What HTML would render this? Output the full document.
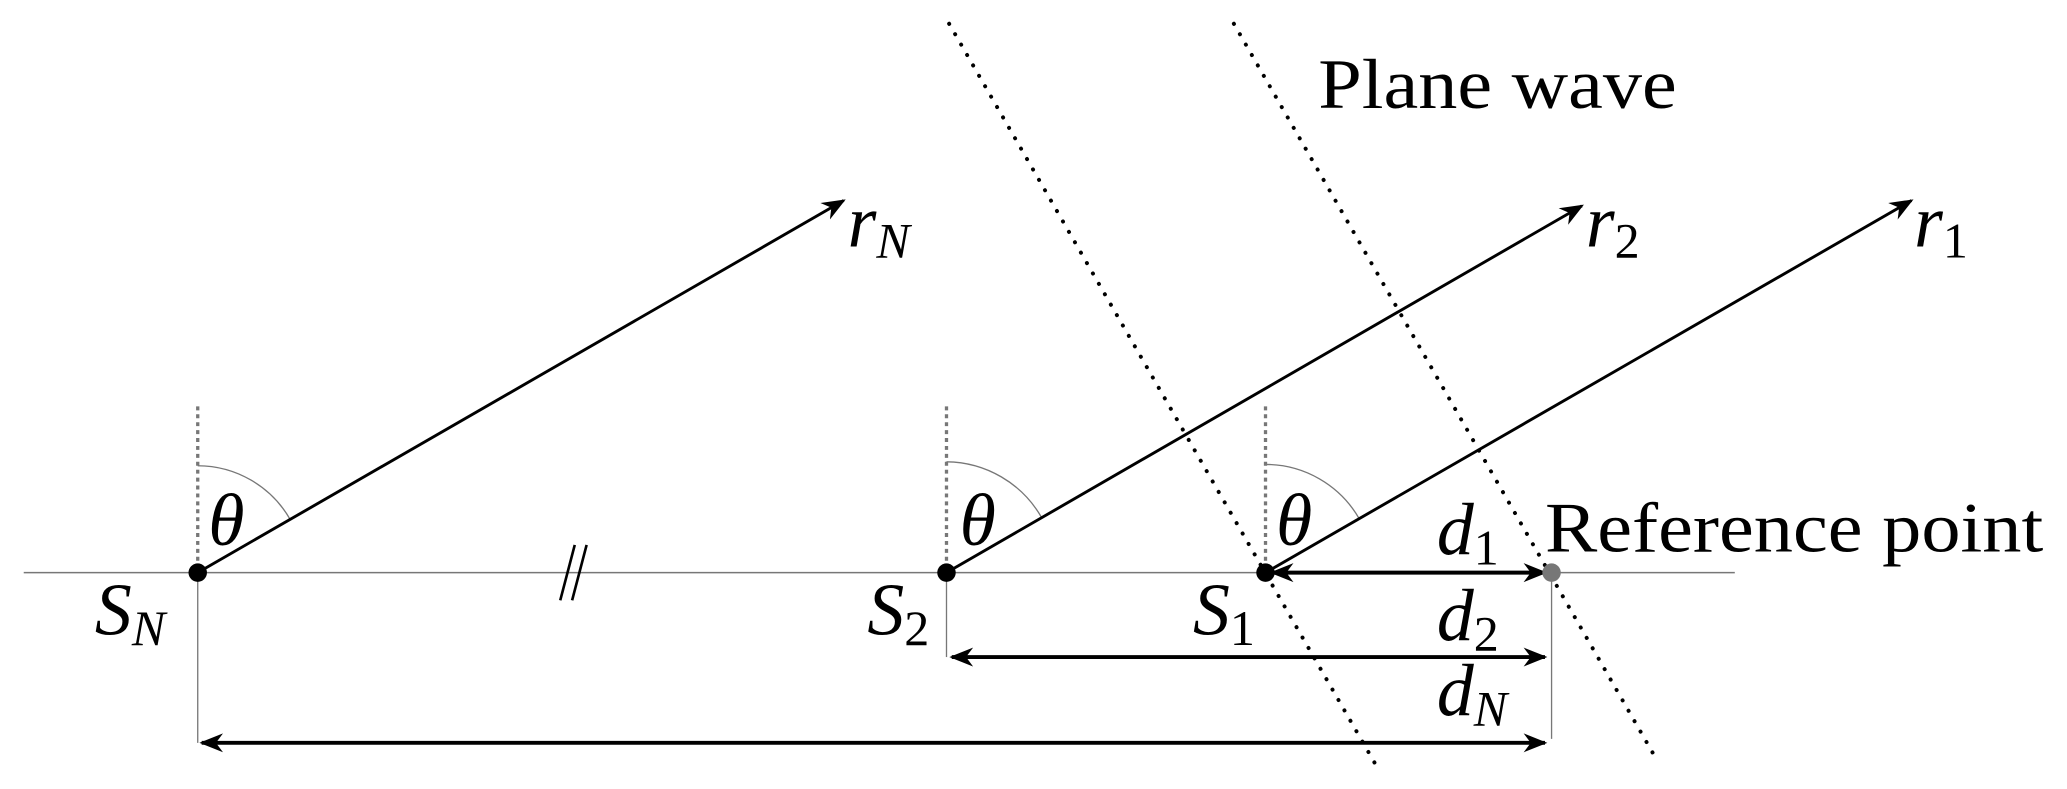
<!DOCTYPE html>
<html><head><meta charset="utf-8"><style>html,body{margin:0;padding:0;background:#fff}svg{display:block}</style></head>
<body>
<svg width="2067" height="789" viewBox="0 0 1568 598" preserveAspectRatio="none" xmlns="http://www.w3.org/2000/svg" font-family="Liberation Serif, serif">
<defs>
<marker id="b" viewBox="0 0 10 10" refX="9" refY="5" markerWidth="18" markerHeight="18" orient="auto-start-reverse" markerUnits="userSpaceOnUse"><path d="M0,1 L10,5 L0,9 L3,5 z" fill="#000"/></marker>
</defs>
<line x1="18" y1="434" x2="1316" y2="434" stroke="#777" stroke-width="1.2"/>
<g stroke="#777" stroke-width="2.5" stroke-dasharray="3,3">
<line x1="150" y1="308" x2="150" y2="434"/><line x1="718" y1="308" x2="718" y2="434"/><line x1="960" y1="308" x2="960" y2="434"/>
</g>
<g stroke="#777" stroke-width="1" fill="none">
<path d="M150,353 A81,81 0 0 1 220,393.5"/><path d="M718,350 A84,84 0 0 1 790,392"/><path d="M960,352 A82,82 0 0 1 1031,393"/>
<line x1="150" y1="434" x2="150" y2="563"/><line x1="718" y1="434" x2="718" y2="498"/><line x1="1177" y1="434" x2="1177" y2="560"/>
</g>
<g stroke="#000" stroke-width="2.2" marker-end="url(#b)">
<line x1="150" y1="434" x2="640" y2="152"/><line x1="718" y1="434" x2="1200" y2="156"/><line x1="960" y1="434" x2="1450" y2="152"/>
</g>
<g stroke="#000" stroke-width="3" stroke-dasharray="0.1,9" stroke-linecap="round">
<line x1="720" y1="18" x2="1045" y2="582"/><line x1="936" y1="18" x2="1258" y2="578"/>
</g>
<g stroke="#000" stroke-width="3" marker-start="url(#b)" marker-end="url(#b)">
<line x1="965" y1="434" x2="1172" y2="434"/><line x1="722" y1="498" x2="1172" y2="498"/><line x1="153" y1="563" x2="1172" y2="563"/>
</g>
<circle cx="150" cy="434" r="7" fill="#000"/><circle cx="718" cy="434" r="7" fill="#000"/><circle cx="960" cy="434" r="7" fill="#000"/><circle cx="1177" cy="434" r="7" fill="#777"/>
<g stroke="#000" stroke-width="2"><line x1="436" y1="413" x2="425" y2="455"/><line x1="445" y1="413" x2="434" y2="455"/></g>
<g font-size="56" font-style="italic">
<text x="643" y="187">r<tspan font-size="38" dy="8">N</tspan></text>
<text x="1203" y="187">r<tspan font-size="38" font-style="normal" dy="8">2</tspan></text>
<text x="1452" y="187">r<tspan font-size="38" font-style="normal" dy="8">1</tspan></text>
<text x="158" y="413">θ</text><text x="728" y="413">θ</text><text x="968" y="413">θ</text>
<text x="72" y="481">S<tspan font-size="38" dy="8">N</tspan></text>
<text x="658" y="481">S<tspan font-size="38" font-style="normal" dy="8">2</tspan></text>
<text x="905" y="481">S<tspan font-size="38" font-style="normal" dy="8">1</tspan></text>
<text x="1090" y="420">d<tspan font-size="38" font-style="normal" dy="8">1</tspan></text>
<text x="1090" y="485">d<tspan font-size="38" font-style="normal" dy="8">2</tspan></text>
<text x="1090" y="542">d<tspan font-size="38" dy="8">N</tspan></text>
</g>
<text x="1172" y="418" font-size="54" textLength="378" lengthAdjust="spacingAndGlyphs">Reference point</text>
<text x="1000" y="82" font-size="54" textLength="272" lengthAdjust="spacingAndGlyphs">Plane wave</text>
</svg>
</body></html>
